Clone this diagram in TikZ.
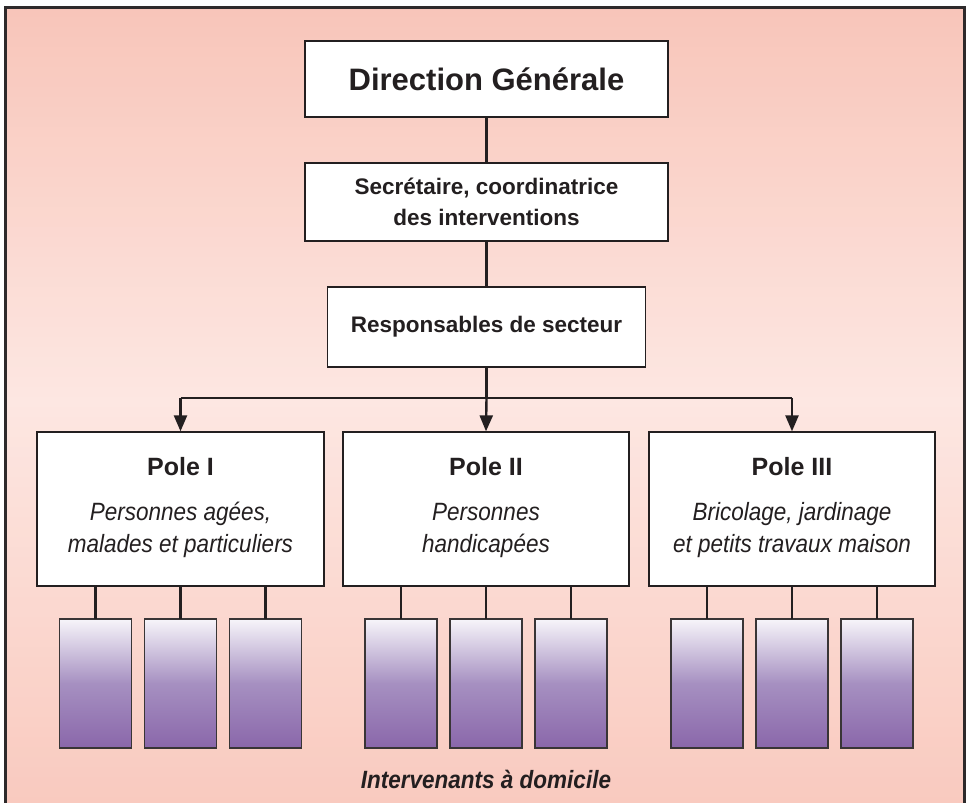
\documentclass[tikz,border=0pt]{standalone}
\usepackage{fontspec}
\setmainfont{Liberation Sans}
\newfontfamily\narrowsans[FakeStretch=0.9]{Liberation Sans}
\usetikzlibrary{arrows.meta}
\definecolor{ink}{HTML}{231F20}
\definecolor{bgLight}{HTML}{FDE7E2}
\definecolor{bgTop}{HTML}{F8C5B9}
\definecolor{bgBot}{HTML}{F9CABF}
\definecolor{vtop}{HTML}{F7F5FA}
\definecolor{vmid}{HTML}{A690C1}
\definecolor{vbot}{HTML}{8A67AA}
\tikzset{
  mainbox/.style={draw=ink, line width=1.3pt, fill=white, align=center, text=ink, inner sep=0pt},
  conn/.style={draw=ink, line width=2.4pt},
  arr/.style={conn, -{Triangle[length=16pt,width=13pt]}},
  worker/.style={minimum width=72pt, minimum height=129pt, inner sep=0pt},
  workerline/.style={draw=ink!90, line width=1.5pt},
  frameline/.style={draw=ink!95, line width=3pt},
  boldtxt/.style={text=ink, inner sep=0pt, font=\fontsize{25}{30}\selectfont\bfseries},
  itatxt/.style={text=ink, inner sep=0pt, align=center, font=\narrowsans\fontsize{25}{32}\selectfont\itshape}
}
\begin{document}
\begin{tikzpicture}[x=1pt,y=-1pt]
\useasboundingbox (0,0) rectangle (967,803);
% background: banded vertical gradient
\foreach \i in {0,...,79}{
  \pgfmathsetmacro\yy{7+10*\i}
  \ifnum\i<40
    \pgfmathsetmacro\ff{min(100,(10*\i+5)/3.93)}
    \colorlet{bandc}{bgLight!\ff!bgTop}
  \else
    \pgfmathsetmacro\ff{max(0,(791-10*\i)/4.03)}
    \colorlet{bandc}{bgLight!\ff!bgBot}
  \fi
  \fill[bandc] (5.5,\yy) rectangle (964.5,\yy+10.6);
}
\draw[frameline] (5.5,803) -- (5.5,7) -- (964.5,7) -- (964.5,803);

% top hierarchy
\node[mainbox, minimum width=363pt, minimum height=76pt, font=\fontsize{31}{36}\selectfont\bfseries] (dg) at (486.5,79)
  {Direction Générale};
\node[mainbox, minimum width=363pt, minimum height=78pt, font=\fontsize{22.5}{31}\selectfont\bfseries] (sec) at (486.5,202)
  {Secrétaire, coordinatrice\\des interventions};
\node[mainbox, minimum width=318pt, minimum height=80pt, font=\fontsize{22.5}{30}\selectfont\bfseries] (resp) at (486.5,327)
  {Responsables de secteur};

\draw[conn] (dg.south) -- (sec.north);
\draw[conn] (sec.south) -- (resp.north);
\coordinate (hub) at (486.5,398);
\draw[conn] (resp.south) -- (hub);

% poles
\node[mainbox, minimum width=287pt, minimum height=154pt] (p1) at (180.5,509) {};
\node[mainbox, minimum width=286pt, minimum height=154pt] (p2) at (486,509) {};
\node[mainbox, minimum width=286pt, minimum height=154pt] (p3) at (792,509) {};

\draw[conn] (p1.north |- hub) -- (p3.north |- hub);
\draw[arr] (p1.north |- hub) -- (p1.north);
\draw[arr] (hub) -- (p2.north);
\draw[arr] (p3.north |- hub) -- (p3.north);

\node[boldtxt, anchor=base] (p1t) at (180.5,475) {Pole I};
\node[boldtxt, anchor=base] (p2t) at (486,475) {Pole II};
\node[boldtxt, anchor=base] (p3t) at (792,475) {Pole III};

\node[itatxt] (p1d) at (180.5,530) {Personnes agées,\\malades et particuliers};
\node[itatxt] (p2d) at (486,530) {Personnes\\handicapées};
\node[itatxt] (p3d) at (792,530) {Bricolage, jardinage\\et petits travaux maison};

% workers
\foreach \p/\cx in {p1/180.5, p2/486, p3/792}{
  \foreach \i/\dx in {a/-85, b/0, c/85}{
    \node[worker] (\p\i) at (\cx+\dx,683.5) {};
    \shade[top color=vtop, bottom color=vmid] (\p\i.north west) rectangle (\p\i.east);
    \shade[top color=vmid, bottom color=vbot] ([yshift=0.3pt]\p\i.west) rectangle (\p\i.south east);
    \draw[workerline] (\p\i.north west) rectangle (\p\i.south east);
    \draw[conn] (\p\i.north |- \p.south) -- (\p\i.north);
  }
}

\node[text=ink, inner sep=0pt, font=\narrowsans\fontsize{25}{28}\selectfont\bfseries\itshape] (iad) at (486,779) {Intervenants à domicile};
\end{tikzpicture}
\end{document}
